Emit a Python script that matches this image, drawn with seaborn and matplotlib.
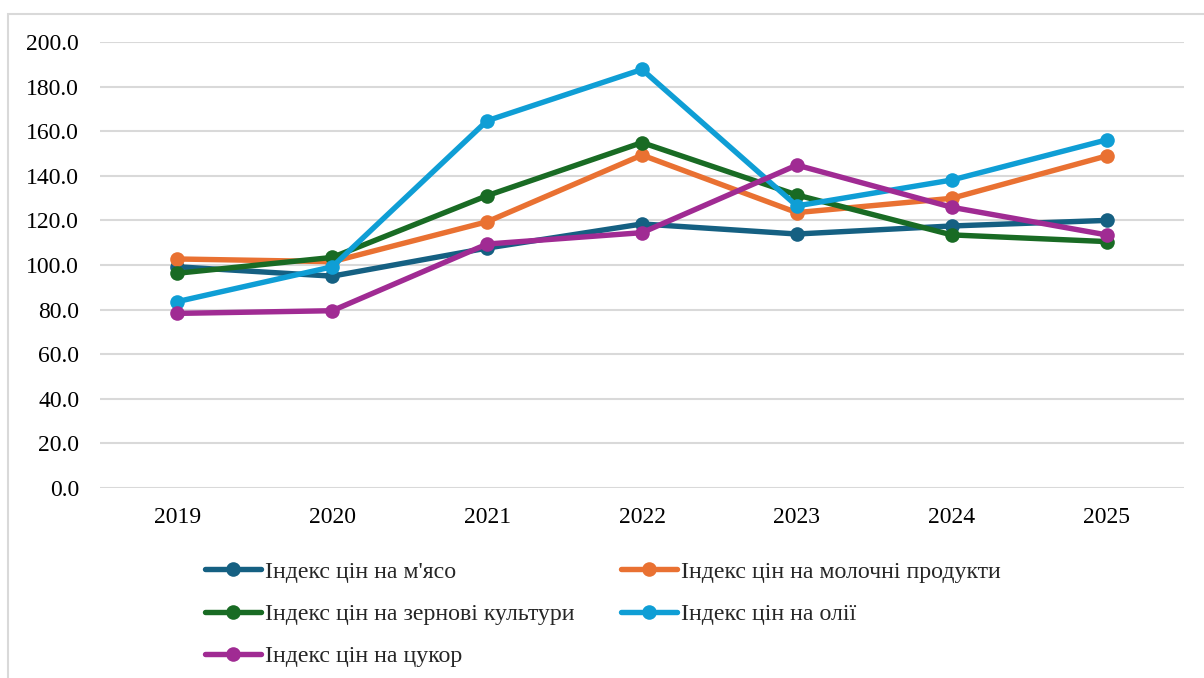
import matplotlib
matplotlib.use("Agg")
import matplotlib.pyplot as plt
import matplotlib.patches as mpatches
import seaborn as sns
import pandas as pd

years = [2019, 2020, 2021, 2022, 2023, 2024, 2025]
series_names = [
    "Індекс цін на м'ясо",
    "Індекс цін на молочні продукти",
    "Індекс цін на зернові культури",
    "Індекс цін на олії",
    "Індекс цін на цукор",
]
meat = [99.2, 95.0, 107.6, 118.4, 113.9, 117.5, 120.0]
dairy = [102.7, 101.5, 119.4, 149.3, 123.5, 129.9, 148.9]
cereals = [96.3, 103.4, 131.1, 154.9, 131.4, 113.5, 110.5]
oils = [83.6, 99.2, 164.7, 187.7, 126.5, 138.1, 156.1]
sugar = [78.3, 79.5, 109.4, 114.5, 144.8, 125.9, 113.5]
colors = ["#156082", "#E97132", "#196B24", "#0F9ED5", "#A02B93"]

values = [meat, dairy, cereals, oils, sugar]
df = pd.DataFrame(
    [(y, name, v) for name, vals in zip(series_names, values) for y, v in zip(years, vals)],
    columns=["year", "series", "value"],
)

sns.set_theme(style="white")
plt.rcParams["font.family"] = ["Liberation Serif", "DejaVu Serif"]

fig = plt.figure(figsize=(12.04, 6.78), dpi=100)
ax = fig.add_axes([100 / 1204, 1 - 488 / 678, 1084 / 1204, 446 / 678])

sns.lineplot(
    data=df, x="year", y="value", hue="series", hue_order=series_names,
    palette=colors, marker="o", markersize=10.5, markeredgewidth=0,
    linewidth=3.9, ax=ax, legend=False,
)

ax.set_xlim(2018.5, 2025.5)
ax.set_ylim(0, 200)
ax.set_yticks(range(0, 201, 20))
ax.set_yticklabels([f"{v:.1f}" for v in range(0, 201, 20)])
ax.set_xticks(years)
ax.set_xticklabels([str(y) for y in years])
ax.grid(axis="y", color="#D9D9D9", linewidth=1.5)
ax.grid(axis="x", visible=False)
ax.set_axisbelow(True)
for s in ax.spines.values():
    s.set_visible(False)
ax.tick_params(axis="y", length=0, pad=15, labelsize=17, labelcolor="black")
ax.tick_params(axis="x", length=0, pad=14, labelsize=17, labelcolor="black")
ax.set_xlabel("")
ax.set_ylabel("")

handles = [
    plt.Line2D([], [], color=c, marker="o", markersize=10.5, markeredgewidth=0, linewidth=3.9)
    for c in colors
]
# row-major order in a 2-column legend
order = [0, 2, 4, 1, 3]
fig.legend(
    [handles[i] for i in order], [series_names[i] for i in order],
    ncol=2, loc="upper left",
    bbox_to_anchor=(205 / 1204, 1 - 561 / 678), frameon=False,
    fontsize=17.2, handlelength=2.35, handletextpad=0.15, columnspacing=1.95,
    labelspacing=0.86, borderpad=0, borderaxespad=0,
)

frame = mpatches.Rectangle(
    (7.5 / 1204, -0.05), 1.1, 1 - 13.5 / 678 + 0.05,
    transform=fig.transFigure, fill=False, edgecolor="#D9D9D9", linewidth=1.5,
    clip_on=False,
)
fig.patches.append(frame)

fig.savefig("out.png", dpi=100)
